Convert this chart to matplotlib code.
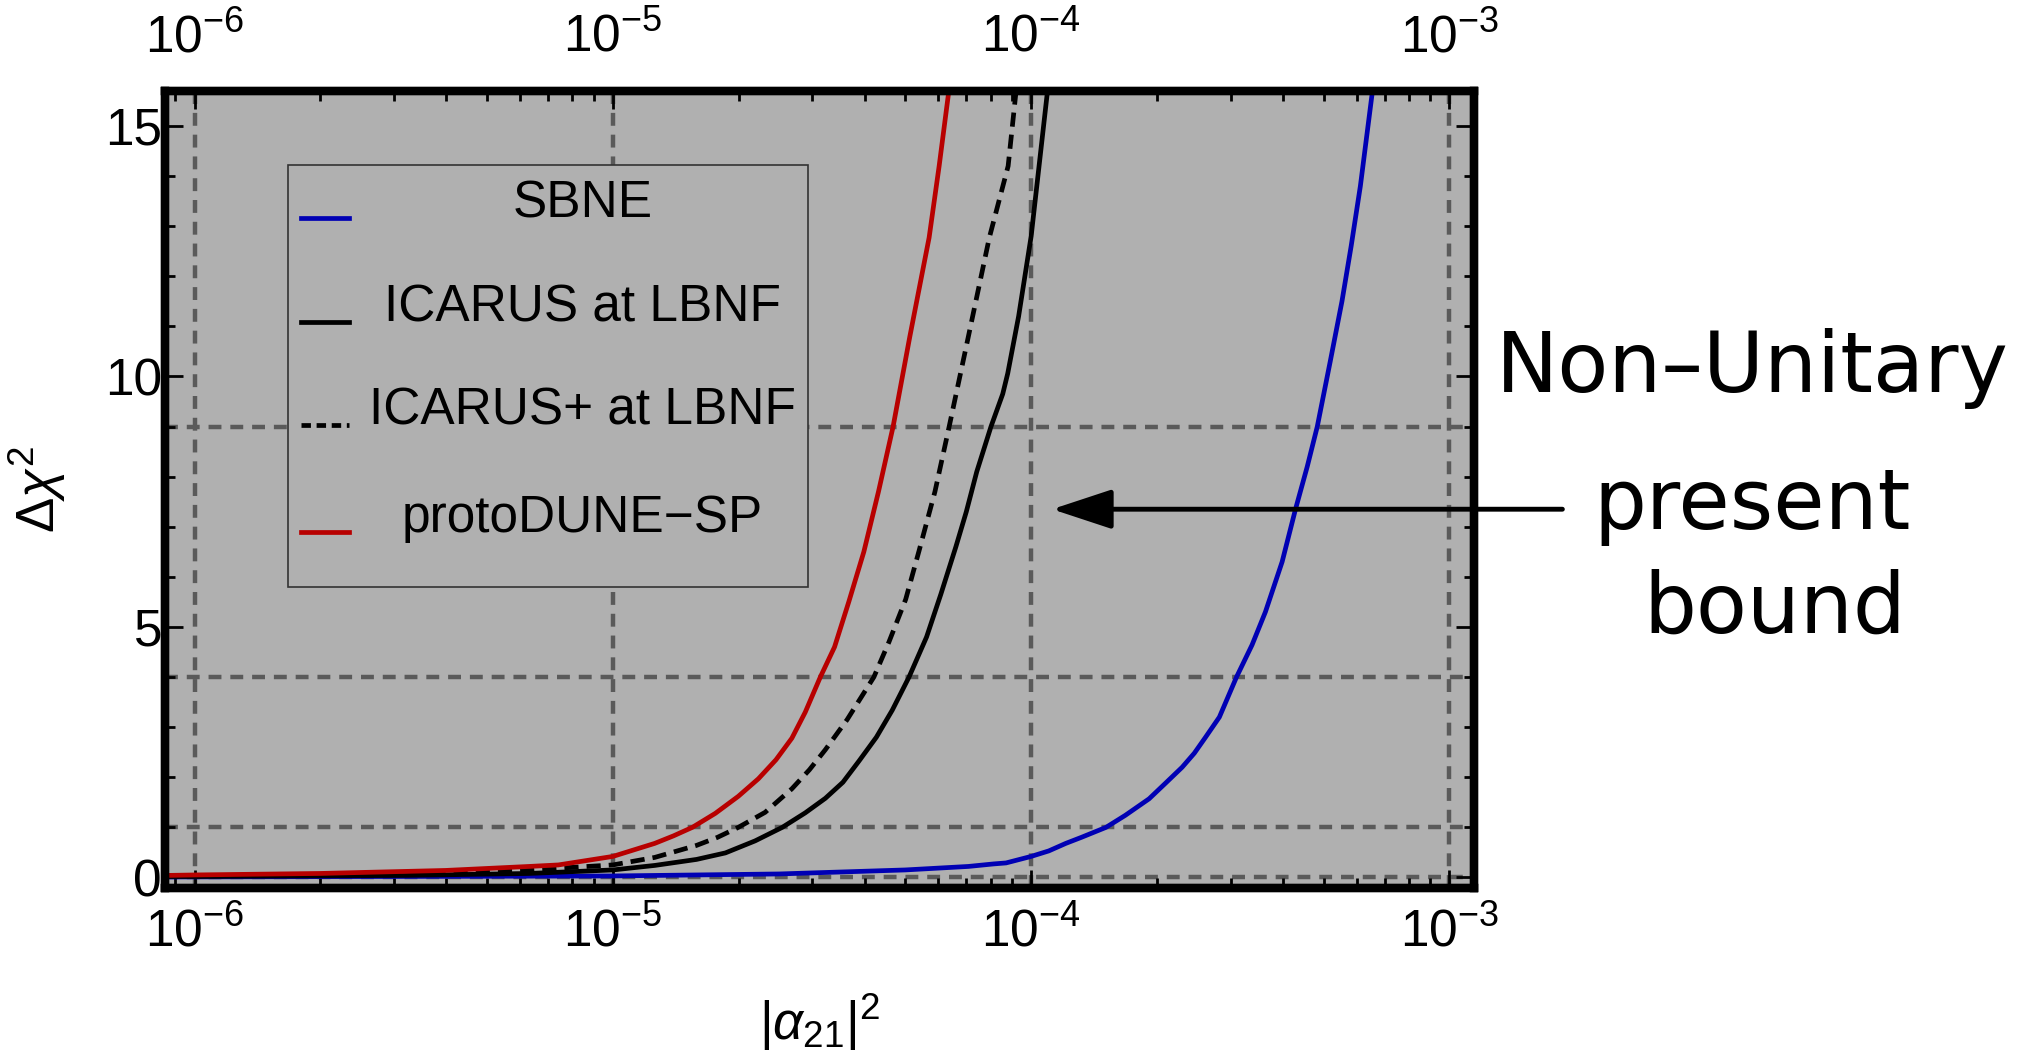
import numpy as np
import matplotlib
matplotlib.use("Agg")
import matplotlib.pyplot as plt
from matplotlib.lines import Line2D
from matplotlib.patches import Rectangle
from matplotlib.ticker import FixedLocator, LogLocator, NullFormatter

plt.rcParams['font.family'] = ['Liberation Sans', 'DejaVu Sans']
plt.rcParams['mathtext.fontset'] = 'custom'
plt.rcParams['mathtext.rm'] = 'Liberation Sans'
plt.rcParams['mathtext.it'] = 'Liberation Sans:italic'

# values: |alpha21|^2 and Delta chi^2
sbne_x = [8.5e-7, 3.16e-6, 1.0e-5, 2.5e-5, 5.0e-5, 7.08e-5, 8.13e-5, 8.71e-5, 1.0e-4,
          1.102e-4, 1.21e-4, 1.318e-4, 1.51e-4, 1.679e-4, 1.914e-4, 2.094e-4, 2.296e-4,
          2.455e-4, 2.612e-4, 2.818e-4, 3.097e-4, 3.373e-4, 3.631e-4, 3.981e-4, 4.285e-4,
          4.571e-4, 4.831e-4, 5.188e-4, 5.534e-4, 5.821e-4, 6.124e-4, 6.592e-4, 6.76e-4]
sbne_y = [0.01, 0.02, 0.03, 0.07, 0.15, 0.22, 0.27, 0.29, 0.42,
          0.53, 0.68, 0.80, 1.0, 1.24, 1.57, 1.88, 2.2,
          2.48, 2.8, 3.2, 4.0, 4.64, 5.3, 6.3, 7.35,
          8.2, 9.0, 10.3, 11.5, 12.6, 13.8, 15.9, 16.6]

icarus_x = [8.5e-7, 1.0e-6, 3.162e-6, 6.31e-6, 1.0e-5, 1.259e-5, 1.585e-5, 1.858e-5, 2.188e-5,
            2.541e-5, 2.884e-5, 3.221e-5, 3.548e-5, 3.873e-5, 4.266e-5, 4.656e-5, 5.105e-5,
            5.623e-5, 6.081e-5, 6.607e-5, 6.998e-5, 7.413e-5, 8.017e-5, 8.551e-5, 8.79e-5,
            9.333e-5, 1.0e-4, 1.096e-4, 1.135e-4]
icarus_y = [0.02, 0.02, 0.04, 0.08, 0.15, 0.24, 0.36, 0.49, 0.73,
            1.0, 1.29, 1.58, 1.9, 2.32, 2.8, 3.34, 4.0,
            4.8, 5.65, 6.6, 7.3, 8.1, 9.0, 9.65, 10.06,
            11.2, 12.8, 15.75, 16.6]

icarusp_x = [8.5e-7, 1.0e-6, 2.0e-6, 3.98e-6, 6.31e-6, 1.0e-5, 1.259e-5, 1.585e-5, 1.778e-5,
             1.995e-5, 2.312e-5, 2.679e-5, 2.951e-5, 3.221e-5, 3.631e-5, 4.207e-5, 4.571e-5,
             5.012e-5, 5.395e-5, 5.888e-5, 6.368e-5, 7.079e-5, 7.943e-5, 8.81e-5, 9.204e-5,
             9.441e-5]
icarusp_y = [0.03, 0.03, 0.05, 0.09, 0.15, 0.25, 0.40, 0.64, 0.80,
             1.0, 1.3, 1.77, 2.15, 2.55, 3.15, 4.0, 4.7,
             5.55, 6.52, 7.7, 9.0, 10.8, 12.77, 14.2, 15.7,
             16.6]

proto_x = [8.5e-7, 1.0e-6, 2.0e-6, 3.98e-6, 6.31e-6, 7.41e-6, 1.0e-5, 1.259e-5, 1.396e-5,
           1.549e-5, 1.758e-5, 1.995e-5, 2.228e-5, 2.455e-5, 2.679e-5, 2.884e-5, 3.133e-5,
           3.388e-5, 3.664e-5, 3.981e-5, 4.315e-5, 4.677e-5, 5.129e-5, 5.702e-5, 6.026e-5,
           6.368e-5, 6.607e-5]
proto_y = [0.04, 0.05, 0.08, 0.14, 0.22, 0.25, 0.42, 0.68, 0.83,
           1.0, 1.28, 1.62, 1.97, 2.35, 2.78, 3.3, 4.0,
           4.6, 5.5, 6.5, 7.7, 9.0, 10.8, 12.77, 14.2,
           15.75, 16.6]

labels = ['SBNE', 'ICARUS at LBNF', 'ICARUS+ at LBNF', 'protoDUNE\u2212SP']
colors = ['#0000b4', 'black', 'black', '#b80000']
grid_y = [0, 1, 4, 9]
grid_x = [1e-6, 1e-5, 1e-4, 1e-3]
bound_y = 7.35

fig = plt.figure(figsize=(20.33, 10.58), dpi=100)
ax = fig.add_axes([0.0811, 0.1607, 0.6440, 0.7534])
ax.set_facecolor('#b0b0b0')

gkw = dict(color='#5a5a5a', lw=3.2, dashes=(2.9, 2.0), zorder=1)
for g in grid_x:
    ax.axvline(g, **gkw)
for g in grid_y:
    ax.axhline(g, **gkw)

lw = 3.4
ax.plot(sbne_x, sbne_y, color=colors[0], lw=lw, zorder=3)
ax.plot(icarus_x, icarus_y, color=colors[1], lw=lw, zorder=3)
ax.plot(icarusp_x, icarusp_y, color=colors[2], lw=lw, dashes=(3.0, 1.7), zorder=3)
ax.plot(proto_x, proto_y, color=colors[3], lw=lw, zorder=3)

ax.set_xscale('log')
ax.set_xlim(10**-6.071, 10**-2.941)
ax.set_ylim(-0.21, 15.7)

for s in ax.spines.values():
    s.set_linewidth(6)
    s.set_zorder(5)

ax.yaxis.set_major_locator(FixedLocator([0, 5, 10, 15]))
ax.yaxis.set_minor_locator(FixedLocator(np.arange(0, 16, 1)))
ax.xaxis.set_major_locator(LogLocator(base=10, numticks=10))
ax.xaxis.set_minor_locator(LogLocator(base=10, subs=np.arange(2, 10), numticks=20))
ax.xaxis.set_minor_formatter(NullFormatter())
ax.tick_params(which='both', direction='in', top=True, right=True, labelsize=37, width=2)
ax.tick_params(which='major', length=13)
ax.tick_params(which='minor', length=7)
ax.tick_params(axis='y', pad=2)
ax.tick_params(axis='x', pad=14)

# top labels
ax2 = ax.twiny()
ax2.set_xscale('log')
ax2.set_xlim(ax.get_xlim())
ax2.xaxis.set_major_locator(LogLocator(base=10, numticks=10))
ax2.xaxis.set_minor_locator(LogLocator(base=10, subs=np.arange(2, 10), numticks=20))
ax2.xaxis.set_minor_formatter(NullFormatter())
ax2.tick_params(which='both', direction='in', labelsize=37, width=2, pad=20)
ax2.tick_params(which='major', length=13)
ax2.tick_params(which='minor', length=7)
for s in ax2.spines.values():
    s.set_linewidth(6)

ax.set_xlabel(r'$|\alpha_{21}|^2$', fontsize=38)
ax.xaxis.set_label_coords(0.5, -0.13)
ax.set_ylabel(r'$\Delta\chi^2$', fontsize=38)
ax.yaxis.set_label_coords(-0.074, 0.5)

# legend box drawn by hand so labels sit centred like the original
ax.add_patch(Rectangle((0.094, 0.378), 0.397, 0.529, transform=ax.transAxes,
                       facecolor='#b0b0b0', edgecolor='#333333', lw=1.2, zorder=6))
rows = [0.841, 0.710, 0.581, 0.447]
styles = ['-', '-', (0, (2.0, 1.2)), '-']
for i in range(4):
    ax.add_line(Line2D([0.104, 0.141], [rows[i], rows[i]], transform=ax.transAxes,
                       color=colors[i], lw=lw, linestyle=styles[i], zorder=7))
    ax.text(0.319, rows[i] + 0.017, labels[i], transform=ax.transAxes, ha='center',
            va='center', fontsize=37, zorder=7)

ax.annotate('', xy=(10**-3.95, bound_y), xytext=(10**-2.73, bound_y),
            arrowprops=dict(arrowstyle='-|>,head_length=1.0,head_width=0.33',
                            lw=3.5, color='black', mutation_scale=37, shrinkA=0, shrinkB=0),
            annotation_clip=False, zorder=8)

fig.text(0.862, 0.652, 'Non\u2013Unitary', ha='center', va='center', fontsize=60,
         family='DejaVu Sans')
fig.text(0.862, 0.522, 'present', ha='center', va='center', fontsize=60, family='DejaVu Sans')
fig.text(0.873, 0.424, 'bound', ha='center', va='center', fontsize=60, family='DejaVu Sans')

fig.savefig('out.png', dpi=100)
